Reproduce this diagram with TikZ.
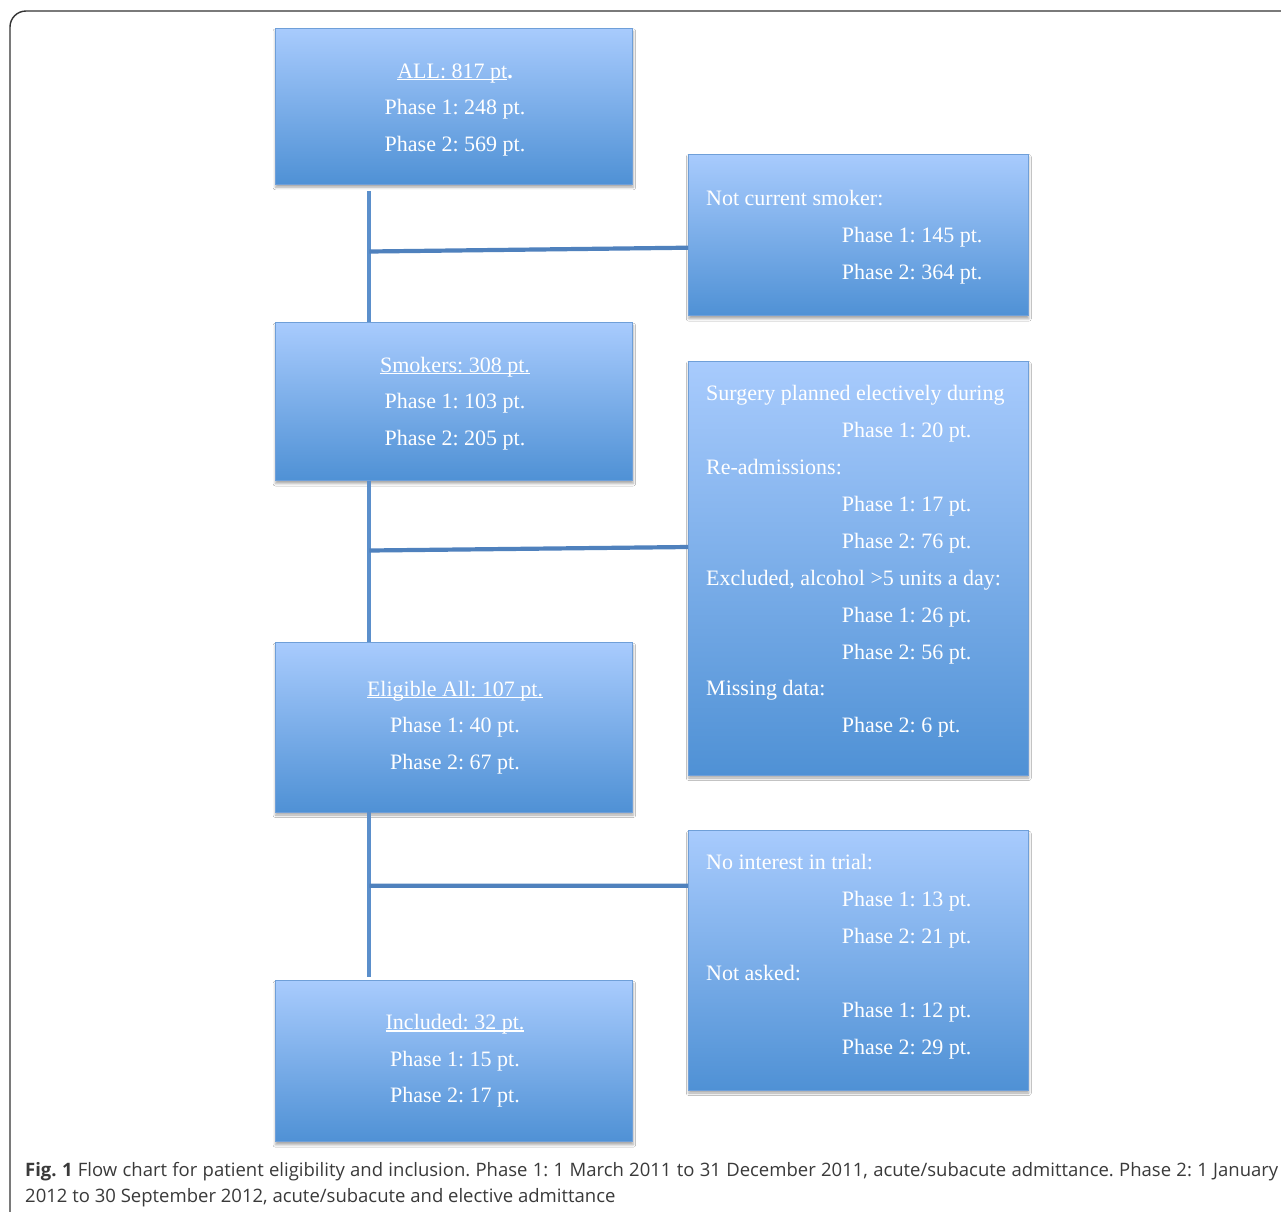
\documentclass[tikz,border=0pt]{standalone}
\usepackage{fontspec}
\setmainfont{Liberation Serif}
\newfontfamily\capfont{Open Sans}
\usetikzlibrary{shadows.blur}
\definecolor{boxtop}{HTML}{A8CBFD}
\definecolor{boxbot}{HTML}{4F91D5}
\definecolor{boxedge}{HTML}{6F9FD8}
\definecolor{vlinecol}{HTML}{5B8FCB}
\definecolor{hlinecol}{HTML}{4F81BD}
\definecolor{capgray}{HTML}{3A3A3A}
\newcommand\myul[1]{\setbox0\hbox{#1}\rlap{\rule[-2.2pt]{\wd0}{1.1pt}}\box0}
\frenchspacing
\begin{document}
\begin{tikzpicture}[x=1pt,y=-1pt,
  flowbox/.style={draw=boxedge, line width=0.8pt, top color=boxtop, bottom color=boxbot,
    inner sep=0pt, blur shadow={shadow xshift=0.5pt, shadow yshift=-3pt, shadow blur radius=2.5pt, shadow opacity=35}},
  midbox/.style={flowbox, minimum width=357.7pt},
  sidebox/.style={flowbox, minimum width=340pt},
  ctext/.style={anchor=base, inner sep=0pt, text=white, font=\fontsize{22}{26}\selectfont},
  ltext/.style={anchor=base west, inner sep=0pt, text=white, font=\fontsize{22}{26}\selectfont},
  vl/.style={draw=vlinecol, line width=4.6pt},
  hl/.style={draw=hlinecol, line width=4.2pt},
  capnode/.style={anchor=base west, inner sep=0pt, text=capgray, font=\capfont\fontsize{18.5}{22}\selectfont}
]
\useasboundingbox (0,0) rectangle (1281,1211);
\fill[white] (0,0) rectangle (1281,1211);
\draw[line width=1.4pt, draw=black!80, rounded corners=16pt] (10,1215) -- (10,11) -- (1290,11);

% boxes
\node[midbox, minimum height=156pt] (A) at (453.85,106.3) {};
\node[sidebox, minimum height=161.7pt] (B) at (858.3,234.85) {};
\node[midbox, minimum height=157.8pt] (C) at (453.85,401.6) {};
\node[sidebox, minimum height=414pt] (D) at (858.3,568) {};
\node[midbox, minimum height=169.3pt] (E) at (453.85,727.35) {};
\node[sidebox, minimum height=259.3pt] (F) at (858.3,960.35) {};
\node[midbox, minimum height=161pt] (G) at (453.85,1061.2) {};

% connectors
\coordinate (j1) at (369.3,251.5);
\coordinate (j2) at (369.3,550.5);
\coordinate (j3) at (369.3,885.7);
\draw[vl] ([xshift=94.3pt,yshift=-6.5pt]A.south west) -- ([xshift=94.3pt]C.north west);
\draw[vl] ([xshift=94.3pt]C.south west) -- ([xshift=94.3pt]E.north west);
\draw[vl] ([xshift=94.3pt]E.south west) -- ([xshift=94.3pt,yshift=3.5pt]G.north west);
\draw[hl] (j1) -- ([yshift=-12.85pt]B.west);
\draw[hl] (j2) -- ([yshift=21pt]D.west);
\draw[hl] (j3) -- ([yshift=74.65pt]F.west);

% texts, middle column
\node[ctext] (A1) at (455,78) {\myul{ALL: 817 pt}\textbf{.}};
\node[ctext] (A2) at (455,114.5) {Phase 1: 248 pt.};
\node[ctext] (A3) at (455,151) {Phase 2: 569 pt.};
\node[ctext] (C1) at (455,372) {\myul{Smokers: 308 pt.}};
\node[ctext] (C2) at (455,408.7) {Phase 1: 103 pt.};
\node[ctext] (C3) at (455,445.4) {Phase 2: 205 pt.};
\node[ctext] (E1) at (455,696) {\myul{Eligible All: 107 pt.}};
\node[ctext] (E2) at (455,732.7) {Phase 1: 40 pt.};
\node[ctext] (E3) at (455,769.3) {Phase 2: 67 pt.};
\node[ctext] (G1) at (455,1029.3) {\myul{Included: 32 pt.}};
\node[ctext] (G2) at (455,1066) {Phase 1: 15 pt.};
\node[ctext] (G3) at (455,1102.7) {Phase 2: 17 pt.};

% texts, side column
\node[ltext] (B1) at (706,205) {Not current smoker:};
\node[ltext] (B2) at (841.7,242) {Phase 1: 145 pt.};
\node[ltext] (B3) at (841.7,279) {Phase 2: 364 pt.};

\node[ltext] (D1) at (706,400.7) {Surgery planned electively during};
\node[ltext] (D2) at (841.7,437.6) {Phase 1: 20 pt.};
\node[ltext] (D3) at (706,474.5) {Re-admissions:};
\node[ltext] (D4) at (841.7,511.4) {Phase 1: 17 pt.};
\node[ltext] (D5) at (841.7,548.3) {Phase 2: 76 pt.};
\node[ltext] (D6) at (706,585.2) {Excluded, alcohol >5 units a day:};
\node[ltext] (D7) at (841.7,622.1) {Phase 1: 26 pt.};
\node[ltext] (D8) at (841.7,659) {Phase 2: 56 pt.};
\node[ltext] (D9) at (706,695.9) {Missing data:};
\node[ltext] (D10) at (841.7,732.8) {Phase 2: 6 pt.};

\node[ltext] (F1) at (706,869.5) {No interest in trial:};
\node[ltext] (F2) at (841.7,906.4) {Phase 1: 13 pt.};
\node[ltext] (F3) at (841.7,943.3) {Phase 2: 21 pt.};
\node[ltext] (F4) at (706,980.2) {Not asked:};
\node[ltext] (F5) at (841.7,1017.1) {Phase 1: 12 pt.};
\node[ltext] (F6) at (841.7,1054) {Phase 2: 29 pt.};

% caption
\node[capnode] (cap1) at (25,1176.5) {\hbox to 1253pt{\textbf{Fig. 1} Flow chart for patient eligibility and inclusion. Phase 1: 1 March 2011 to 31 December 2011, acute/subacute admittance. Phase 2: 1 January}};
\node[capnode] (cap2) at (25,1202) {2012 to 30 September 2012, acute/subacute and elective admittance};
\end{tikzpicture}
\end{document}
